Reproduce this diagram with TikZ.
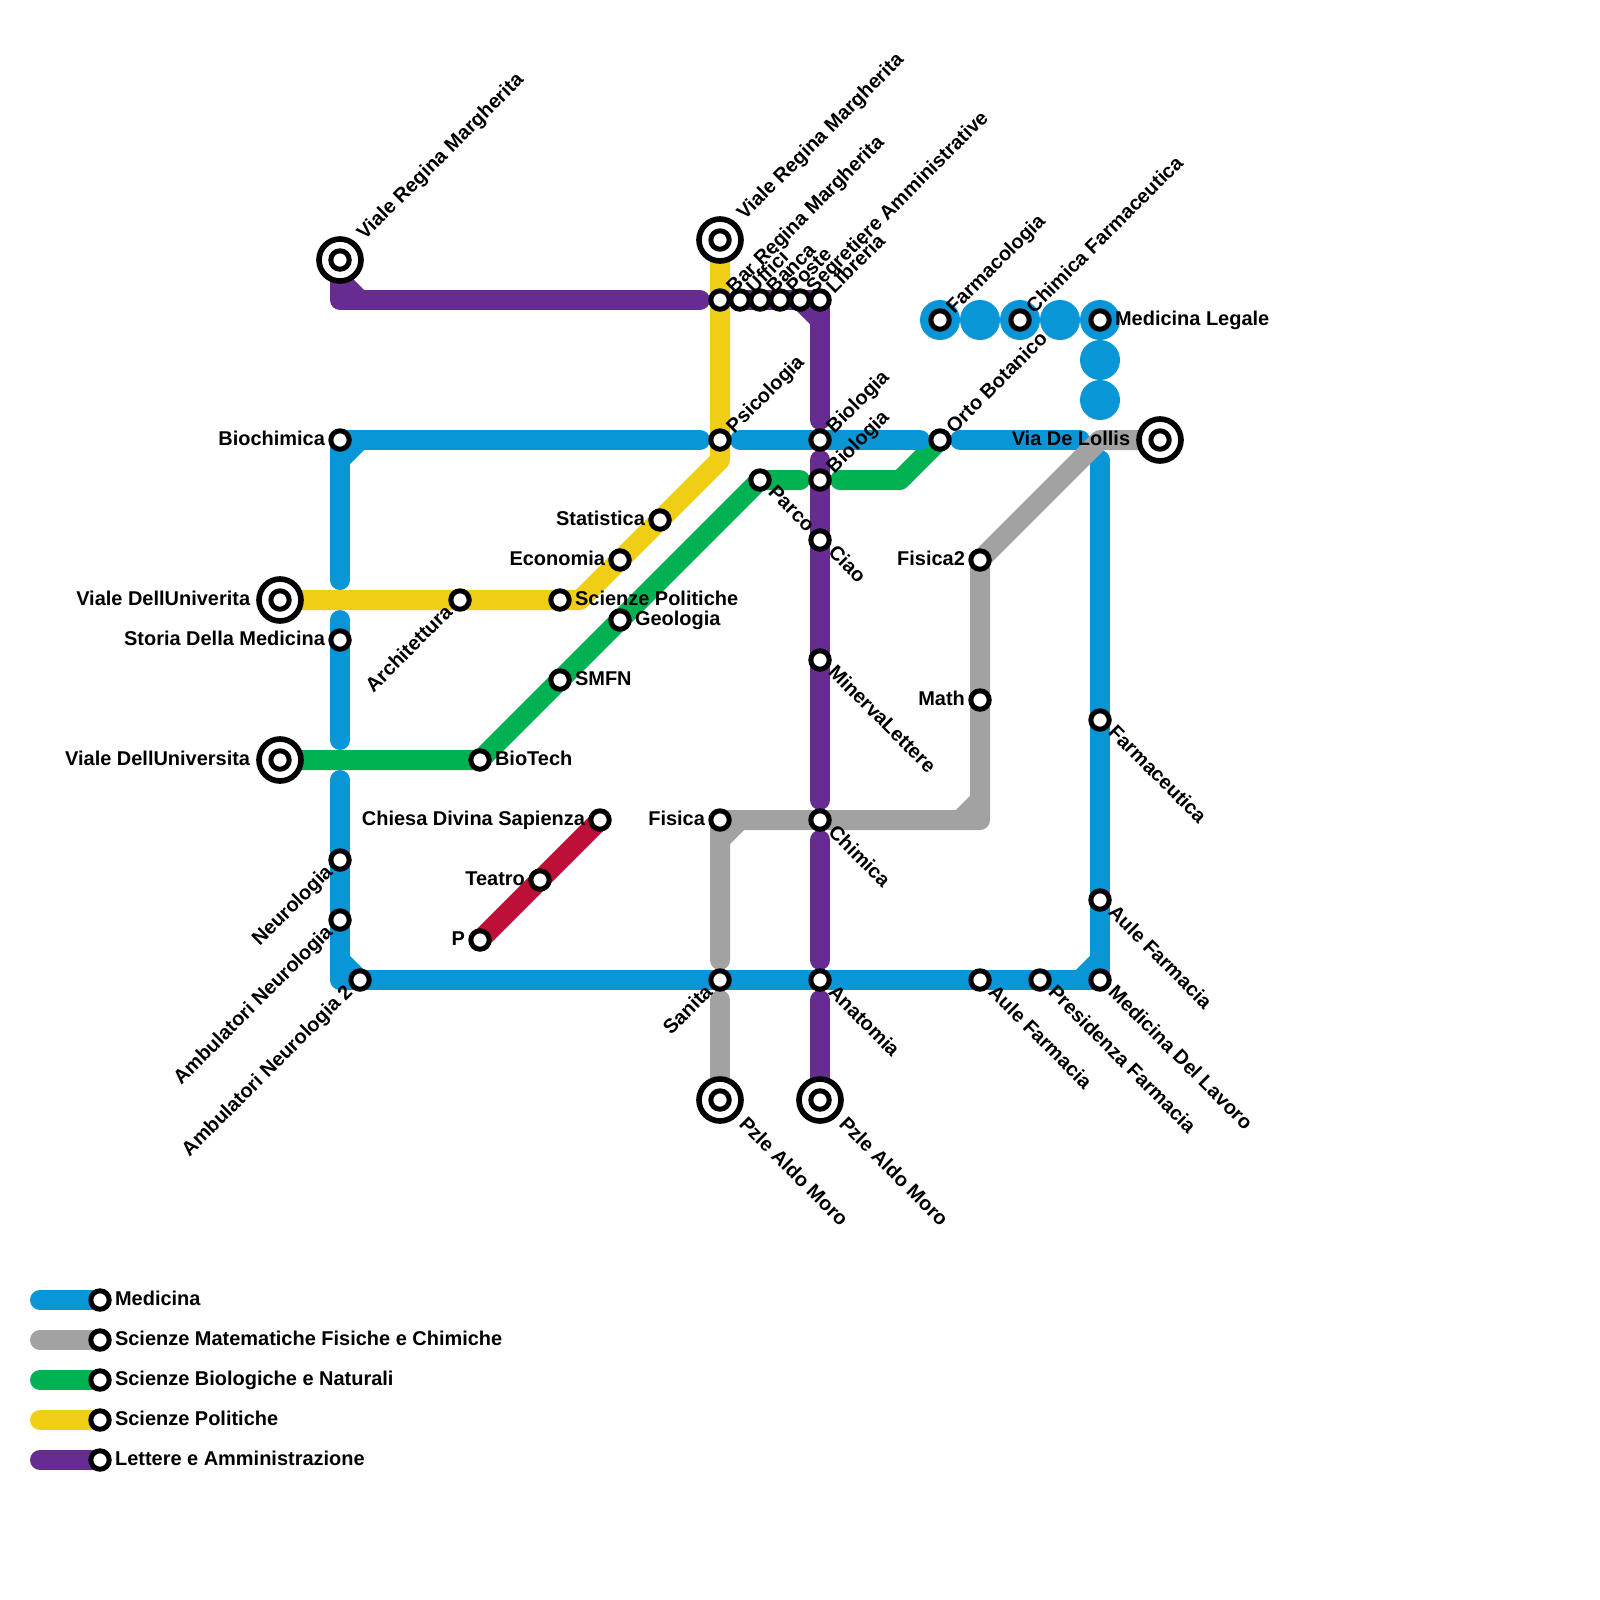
\documentclass[tikz,border=0pt]{standalone}
\usepackage{fontspec}
\setmainfont{Liberation Sans}
\usetikzlibrary{backgrounds}
\definecolor{medblue}{HTML}{0896D7}
\definecolor{mfngray}{HTML}{A2A2A2}
\definecolor{biogreen}{HTML}{00B251}
\definecolor{polyellow}{HTML}{F0CE15}
\definecolor{letpurple}{HTML}{662C90}
\definecolor{teared}{HTML}{BD1038}
\tikzset{
  stn/.style={circle,draw=black,fill=white,line width=0.125cm,minimum size=0.46cm,inner sep=0pt},
  term/.style={circle,draw=black,fill=white,line width=0.14cm,minimum size=1.05cm,inner sep=0pt},
  metro/.style={line width=0.5cm,line cap=round,line join=round},
  lblR/.style={inner sep=0pt,anchor=base west,font=\fontsize{14.2}{14.2}\selectfont\bfseries,xshift=0.37cm,yshift=-0.14cm},
  lblL/.style={inner sep=0pt,anchor=base east,font=\fontsize{14.2}{14.2}\selectfont\bfseries,xshift=-0.37cm,yshift=-0.14cm},
  lblUR/.style={inner sep=0pt,anchor=base west,font=\fontsize{14.2}{14.2}\selectfont\bfseries,rotate=45,xshift=0.35cm,yshift=-0.15cm},
  lblDR/.style={inner sep=0pt,anchor=base west,font=\fontsize{14.2}{14.2}\selectfont\bfseries,rotate=-45,xshift=0.36cm,yshift=-0.11cm},
  lblDL/.style={inner sep=0pt,anchor=base east,font=\fontsize{14.2}{14.2}\selectfont\bfseries,rotate=45,xshift=-0.34cm,yshift=-0.12cm},
}
\begin{document}
\begin{tikzpicture}[x=0.5cm,y=-0.5cm]
\useasboundingbox (0,0) rectangle (80,80);
% stations
\node[term] (vrmA) at (17,13) {};
\node[stn] (vrmAc) at (17,13) {};
\node[term] (vrmB) at (36,12) {};
\node[stn] (vrmBc) at (36,12) {};
\node[term] (univerita) at (14,30) {};
\node[stn] (univeritac) at (14,30) {};
\node[term] (universita) at (14,38) {};
\node[stn] (universitac) at (14,38) {};
\node[term] (moroA) at (36,55) {};
\node[stn] (moroAc) at (36,55) {};
\node[term] (moroB) at (41,55) {};
\node[stn] (moroBc) at (41,55) {};
\node[term] (lollis) at (58,22) {};
\node[stn] (lollisc) at (58,22) {};
\node[stn] (bar) at (36,15) {};
\node[stn] (uffici) at (37,15) {};
\node[stn] (banca) at (38,15) {};
\node[stn] (poste) at (39,15) {};
\node[stn] (segreterie) at (40,15) {};
\node[stn] (libreria) at (41,15) {};
\node[stn] (biochimica) at (17,22) {};
\node[stn] (psicologia) at (36,22) {};
\node[stn] (biologiaA) at (41,22) {};
\node[stn] (orto) at (47,22) {};
\node[stn] (biologiaB) at (41,24) {};
\node[stn] (parco) at (38,24) {};
\node[stn] (statistica) at (33,26) {};
\node[stn] (ciao) at (41,27) {};
\node[stn] (economia) at (31,28) {};
\node[stn] (fisicaB) at (49,28) {};
\node[stn] (architettura) at (23,30) {};
\node[stn] (scipol) at (28,30) {};
\node[stn] (geologia) at (31,31) {};
\node[stn] (storia) at (17,32) {};
\node[stn] (minerva) at (41,33) {};
\node[stn] (smfn) at (28,34) {};
\node[stn] (math) at (49,35) {};
\node[stn] (farmaceutica) at (55,36) {};
\node[stn] (biotech) at (24,38) {};
\node[stn] (chiesa) at (30,41) {};
\node[stn] (fisicaA) at (36,41) {};
\node[stn] (chimica) at (41,41) {};
\node[stn] (neuro) at (17,43) {};
\node[stn] (teatro) at (27,44) {};
\node[stn] (auleB) at (55,45) {};
\node[stn] (ambA) at (17,46) {};
\node[stn] (pstop) at (24,47) {};
\node[stn] (ambB) at (18,49) {};
\node[stn] (sanita) at (36,49) {};
\node[stn] (anatomia) at (41,49) {};
\node[stn] (auleA) at (49,49) {};
\node[stn] (presidenza) at (52,49) {};
\node[stn] (lavoro) at (55,49) {};
\node[stn] (legale) at (55,16) {};
\node[stn] (chimfarm) at (51,16) {};
\node[stn] (farmacologia) at (47,16) {};
\node[stn] (keyA) at (5,65) {};
\node[stn] (keyB) at (5,67) {};
\node[stn] (keyC) at (5,69) {};
\node[stn] (keyD) at (5,71) {};
\node[stn] (keyE) at (5,73) {};
% labels
\node[lblUR,xshift=0.42cm,yshift=0.05cm] (tvrmA) at (vrmA) {Viale Regina Margherita};
\node[lblUR,xshift=0.42cm,yshift=0.05cm] (tvrmB) at (vrmB) {Viale Regina Margherita};
\node[lblUR] (tbar) at (bar) {Bar Regina Margherita};
\node[lblUR] (tuffici) at (uffici) {Uffici};
\node[lblUR] (tbanca) at (banca) {Banca};
\node[lblUR] (tposte) at (poste) {Poste};
\node[lblUR] (tsegreterie) at (segreterie) {Segretiere Amministrative};
\node[lblUR] (tlibreria) at (libreria) {Libreria};
\node[lblUR] (tfarmacologia) at (farmacologia) {Farmacologia};
\node[lblUR] (tchimfarm) at (chimfarm) {Chimica Farmaceutica};
\node[lblR] (tlegale) at (legale) {Medicina Legale};
\node[lblUR] (torto) at (orto) {Orto Botanico};
\node[lblL,xshift=-0.37cm] (tlollis) at (lollis) {Via De Lollis};
\node[lblUR] (tpsicologia) at (psicologia) {Psicologia};
\node[lblUR] (tbiologiaA) at (biologiaA) {Biologia};
\node[lblUR] (tbiologiaB) at (biologiaB) {Biologia};
\node[lblDR] (tparco) at (parco) {Parco};
\node[lblDR] (tciao) at (ciao) {Ciao};
\node[lblDR] (tminerva) at (minerva) {MinervaLettere};
\node[lblDR] (tchimica) at (chimica) {Chimica};
\node[lblDR] (tanatomia) at (anatomia) {Anatomia};
\node[lblDR,xshift=0.4cm,yshift=-0.02cm] (tmoroA) at (moroA) {Pzle Aldo Moro};
\node[lblDR,xshift=0.4cm,yshift=-0.02cm] (tmoroB) at (moroB) {Pzle Aldo Moro};
\node[lblDL] (tsanita) at (sanita) {Sanita};
\node[lblL] (tfisicaA) at (fisicaA) {Fisica};
\node[lblL] (tfisicaB) at (fisicaB) {Fisica2};
\node[lblL] (tmath) at (math) {Math};
\node[lblDR] (tauleA) at (auleA) {Aule Farmacia};
\node[lblDR] (tpresidenza) at (presidenza) {Presidenza Farmacia};
\node[lblDR] (tlavoro) at (lavoro) {Medicina Del Lavoro};
\node[lblDR] (tauleB) at (auleB) {Aule Farmacia};
\node[lblDR] (tfarmaceutica) at (farmaceutica) {Farmaceutica};
\node[lblL] (tbiochimica) at (biochimica) {Biochimica};
\node[lblL,xshift=-0.37cm] (tuniverita) at (univerita) {Viale DellUniverita};
\node[lblL] (tstoria) at (storia) {Storia Della Medicina};
\node[lblL,xshift=-0.37cm] (tuniversita) at (universita) {Viale DellUniversita};
\node[lblDL] (tneuro) at (neuro) {Neurologia};
\node[lblDL] (tambA) at (ambA) {Ambulatori Neurologia};
\node[lblDL] (tambB) at (ambB) {Ambulatori Neurologia 2};
\node[lblDL] (tarchitettura) at (architettura) {Architettura};
\node[lblR] (tscipol) at (scipol) {Scienze Politiche};
\node[lblR] (tgeologia) at (geologia) {Geologia};
\node[lblR] (tsmfn) at (smfn) {SMFN};
\node[lblR] (tbiotech) at (biotech) {BioTech};
\node[lblL] (tchiesa) at (chiesa) {Chiesa Divina Sapienza};
\node[lblL] (tteatro) at (teatro) {Teatro};
\node[lblL] (tpstop) at (pstop) {P};
\node[lblL] (tstatistica) at (statistica) {Statistica};
\node[lblL] (teconomia) at (economia) {Economia};
\node[lblR] (tkeyA) at (keyA) {Medicina};
\node[lblR] (tkeyB) at (keyB) {Scienze Matematiche Fisiche e Chimiche};
\node[lblR] (tkeyC) at (keyC) {Scienze Biologiche e Naturali};
\node[lblR] (tkeyD) at (keyD) {Scienze Politiche};
\node[lblR] (tkeyE) at (keyE) {Lettere e Amministrazione};
% free line ends and bends
\coordinate (a1) at (17,14);
\coordinate (a2) at (17,15);
\coordinate (a3) at (18,15);
\coordinate (a4) at (35,15);
\coordinate (a5) at (40,15);
\coordinate (a6) at (41,16);
\coordinate (a7) at (41,21);
\coordinate (a8) at (41,23);
\coordinate (a9) at (41,40);
\coordinate (a10) at (41,42);
\coordinate (a11) at (41,48);
\coordinate (a12) at (41,50);
\coordinate (b1) at (17,23);
\coordinate (b2) at (18,22);
\coordinate (b3) at (35,22);
\coordinate (b4) at (37,22);
\coordinate (b5) at (46,22);
\coordinate (b6) at (48,22);
\coordinate (b7) at (54,22);
\coordinate (b8) at (55,23);
\coordinate (b9) at (55,48);
\coordinate (b10) at (54,49);
\coordinate (b11) at (17,29);
\coordinate (b12) at (17,31);
\coordinate (b13) at (17,37);
\coordinate (b14) at (17,39);
\coordinate (b15) at (17,48);
\coordinate (b16) at (17,49);
\coordinate (c1) at (55,22);
\coordinate (c2) at (49,41);
\coordinate (c3) at (49,40);
\coordinate (c4) at (48,41);
\coordinate (c5) at (36,42);
\coordinate (c6) at (37,41);
\coordinate (c7) at (36,48);
\coordinate (c8) at (36,50);
\coordinate (d1) at (40,24);
\coordinate (d2) at (42,24);
\coordinate (d3) at (45,24);
\coordinate (e1) at (29,30);
\coordinate (e2) at (36,23);
\coordinate (k1) at (2,65);
\coordinate (k2) at (2,67);
\coordinate (k3) at (2,69);
\coordinate (k4) at (2,71);
\coordinate (k5) at (2,73);
\begin{scope}[on background layer]
% green
\draw[metro,biogreen] (universita.center) -- (biotech.center) -- (parco.center) -- (d1);
\draw[metro,biogreen] (d2) -- (d3) -- (orto.center);
% blue
\draw[metro,medblue] (b11) -- (biochimica.center) -- (b3);
\draw[metro,medblue] (b1) -- (b2);
\draw[metro,medblue] (b4) -- (b5);
\draw[metro,medblue] (b6) -- (b7);
\draw[metro,medblue] (b12) -- (b13);
\draw[metro,medblue] (b14) -- (b16) -- (lavoro.center) -- (b8);
\draw[metro,medblue] (b15) -- (ambB.center);
\draw[metro,medblue] (b9) -- (b10);
\fill[medblue] (farmacologia) circle (1);
\fill[medblue] (49,16) circle (1);
\fill[medblue] (chimfarm) circle (1);
\fill[medblue] (53,16) circle (1);
\fill[medblue] (legale) circle (1);
\fill[medblue] (55,18) circle (1);
\fill[medblue] (55,20) circle (1);
% gray
\draw[metro,mfngray] (lollis.center) -- (c1) -- (fisicaB.center) -- (c2) -- (fisicaA.center) -- (c7);
\draw[metro,mfngray] (c3) -- (c4);
\draw[metro,mfngray] (c5) -- (c6);
\draw[metro,mfngray] (c8) -- (moroA.center);
% yellow
\draw[metro,polyellow] (univerita.center) -- (e1) -- (e2) -- (vrmB.center);
% purple
\draw[metro,letpurple] (vrmA.center) -- (a2) -- (a4);
\draw[metro,letpurple] (a1) -- (a3);
\draw[metro,letpurple] (uffici.center) -- (libreria.center) -- (a7);
\draw[metro,letpurple] (a5) -- (a6);
\draw[metro,letpurple] (a8) -- (a9);
\draw[metro,letpurple] (a10) -- (a11);
\draw[metro,letpurple] (a12) -- (moroB.center);
% red
\draw[metro,teared] (pstop.center) -- (chiesa.center);
% key
\draw[metro,medblue] (k1) -- (keyA.center);
\draw[metro,mfngray] (k2) -- (keyB.center);
\draw[metro,biogreen] (k3) -- (keyC.center);
\draw[metro,polyellow] (k4) -- (keyD.center);
\draw[metro,letpurple] (k5) -- (keyE.center);
\end{scope}
\end{tikzpicture}
\end{document}
